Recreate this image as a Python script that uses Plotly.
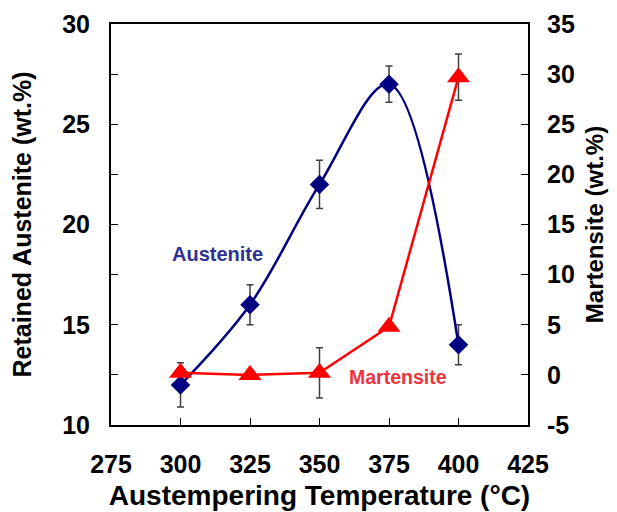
import plotly.graph_objects as go

temps = [300, 325, 350, 375, 400]
austenite = [12.0, 16.0, 22.0, 27.0, 14.0]
austenite_err = [1.1, 1.0, 1.2, 0.9, 1.0]
martensite = [0.2, 0.0, 0.2, 4.8, 29.7]
martensite_err = [0.0, 0.0, 2.5, 0.0, 2.3]

x_ticks = [275, 300, 325, 350, 375, 400, 425]
left_ticks = [10, 15, 20, 25, 30]
right_ticks = [-5, 0, 5, 10, 15, 20, 25, 30, 35]

FONT = "Liberation Sans, Arial, sans-serif"
NAVY = "#000080"
RED = "#FF0000"
ERR = "#404040"

# page body has 8px margin; figure sized to fit the window
W, H = 609, 504
L, T = 103, 16
R = W - 520
B = H - 417.5

fig = go.Figure()
fig.add_trace(go.Scatter(
    x=temps, y=austenite, mode="lines+markers",
    line=dict(color=NAVY, width=2.5, shape="spline", smoothing=1.0),
    marker=dict(symbol="diamond", size=15, color=NAVY),
    error_y=dict(type="data", array=austenite_err, color=ERR, thickness=1.5, width=3.5),
    showlegend=False,
))
fig.add_trace(go.Scatter(
    x=temps, y=martensite, mode="lines+markers", yaxis="y2",
    line=dict(color=RED, width=2.5),
    marker=dict(symbol="triangle-up", size=20, color=RED),
    error_y=dict(type="data", array=martensite_err, color=ERR, thickness=1.5, width=3.5),
    showlegend=False,
))

tickfont = dict(family=FONT, size=25, color="black")

def b(v):
    return "<b>%s</b>" % v

fig.update_layout(
    width=W, height=H,
    margin=dict(l=L, r=R, t=T, b=B, autoexpand=False),
    plot_bgcolor="white", paper_bgcolor="white",
    xaxis=dict(
        range=[275, 425], tickvals=x_ticks, ticktext=[b(v) for v in x_ticks],
        ticks="inside", ticklen=7, tickwidth=1.2, tickcolor="black",
        showline=True, linecolor="black", linewidth=2, mirror=True,
        showgrid=False, zeroline=False, tickfont=tickfont, ticklabelstandoff=16,
        title=dict(text=b("Austempering Temperature (°C)"), font=dict(family=FONT, size=28, color="black"), standoff=8),
    ),
    yaxis=dict(
        range=[10, 30], tickvals=left_ticks, ticktext=[b(v) for v in left_ticks],
        ticks="inside", ticklen=7, tickwidth=1.2, tickcolor="black",
        minor=dict(ticks="inside", ticklen=7, tickwidth=1.2, tickcolor="black", dtick=2.5),
        showline=True, linecolor="black", linewidth=2,
        showgrid=False, zeroline=False, tickfont=tickfont, ticklabelstandoff=14,
        title=dict(text=b("Retained Austenite (wt.%)"), font=dict(family=FONT, size=25, color="black"), standoff=24),
    ),
    yaxis2=dict(
        range=[-5, 35], tickvals=right_ticks, ticktext=[b(v) for v in right_ticks],
        overlaying="y", side="right",
        ticks="inside", ticklen=7, tickwidth=1.2, tickcolor="black",
        showline=True, linecolor="black", linewidth=2,
        showgrid=False, zeroline=False, tickfont=tickfont, ticklabelstandoff=12,
        title=dict(text=b("Martensite (wt.%)"), font=dict(family=FONT, size=24, color="black"), standoff=12),
    ),
)

pw = W - L - R
ph = H - T - B
def px2paper(x, y):
    # x, y in window pixels
    return ((x - 8) - L) / pw, 1 - ((y - 8) - T) / ph

ax, ay = px2paper(217, 254)
mx, my = px2paper(398, 377)
fig.add_annotation(x=ax, y=ay, xref="paper", yref="paper", text=b("Austenite"), showarrow=False,
                   xanchor="center", yanchor="middle",
                   font=dict(family=FONT, size=20, color="#2E3192"))
fig.add_annotation(x=mx, y=my, xref="paper", yref="paper", text=b("Martensite"), showarrow=False,
                   xanchor="center", yanchor="middle",
                   font=dict(family=FONT, size=19.5, color="#EE3340"))

fig.write_html("out.html")
